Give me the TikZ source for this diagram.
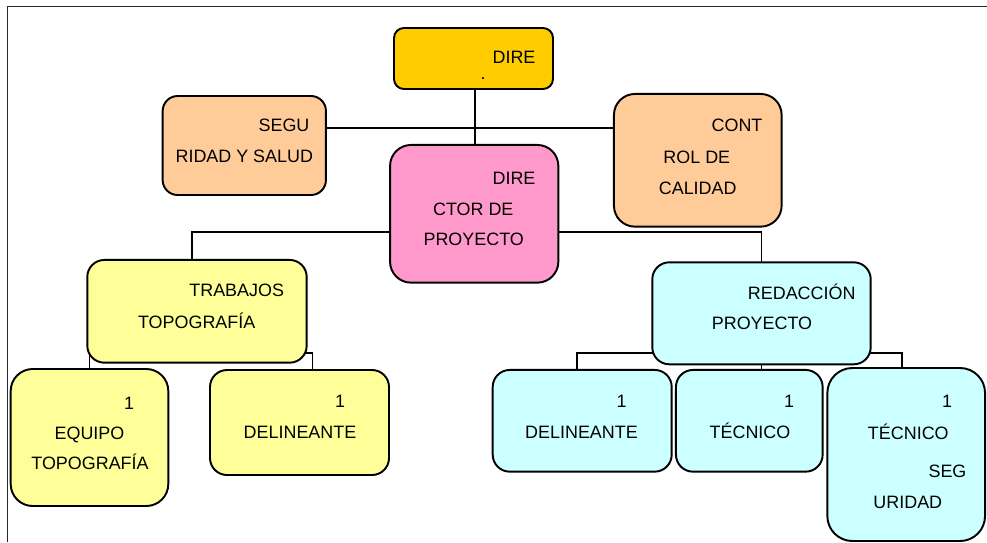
\documentclass[tikz,border=0pt]{standalone}
\usepackage{fontspec}
\setmainfont{Liberation Sans}
\usepackage{xcolor}
\usetikzlibrary{calc,backgrounds}
\definecolor{topgold}{HTML}{FFCC00}
\definecolor{peach}{HTML}{FFCC99}
\definecolor{rosa}{HTML}{FF99CC}
\definecolor{lemon}{HTML}{FFFF99}
\definecolor{aqua}{HTML}{CCFFFF}

\begin{document}
\begin{tikzpicture}[
  x=0.02cm, y=-0.02cm,
  every node/.style={font=\fontsize{10.2}{12}\selectfont},
  box/.style={draw=black,line width=1.1pt,inner sep=0pt,outer sep=0pt},
  sz/.style n args={3}{minimum width=#1*0.02cm,minimum height=#2*0.02cm,
                       rounded corners=#3*0.02cm},
  txt/.style={inner sep=0pt,text height=7.4pt,text depth=0pt},
  conn/.style={draw=black,line width=1.1pt},
  frame/.style={draw=black!85,line width=1.1pt}
]
\useasboundingbox (0,0) rectangle (987,542);
\draw[frame] (7.5,542) |- (987,6.5);

% boxes, placed by pixel centre
\node[box,fill=topgold,sz={159}{61}{10}]      (dire)  at (473.5, 58.5) {};
\node[box,fill=peach,sz={163.3}{99}{15}]      (segu)  at (244.3,145.5) {};
\node[box,fill=peach,sz={167.7}{132.7}{21}]   (cont)  at (697.8,160.3) {};
\node[box,fill=rosa,sz={168.3}{137.7}{21}]    (dirp)  at (474.2,213.8) {};
\node[box,fill=lemon,sz={219.4}{102.7}{17}]   (trab)  at (197.0,311.3) {};
\node[box,fill=lemon,sz={157.6}{137}{22}]     (equi)  at ( 89.5,437.5) {};
\node[box,fill=lemon,sz={179}{105}{17}]       (deli1) at (299.5,422.5) {};
\node[box,fill=aqua,sz={218.4}{102}{17}]      (reda)  at (761.5,313.3) {};
\node[box,fill=aqua,sz={179}{101.7}{17}]      (deli2) at (582.2,420.8) {};
\node[box,fill=aqua,sz={146.7}{101.7}{17}]    (tecn)  at (749.3,420.8) {};
\node[box,fill=aqua,sz={157.7}{173}{25}]      (tecs)  at (906.2,454.5) {};

% where the lines join
\coordinate (hub)  at (475,128);
\coordinate (mid)  at (475,232);
\coordinate (lbar) at (0,353);
\coordinate (rbar) at (0,353.3);

\begin{scope}[on background layer]
\draw[conn] (hub |- dire.south) -- (hub |- dirp.north);
\draw[conn] (segu.east |- hub) -- (cont.west |- hub);
\draw[conn] ($(trab.north)+(-5,0)$) |- (mid) -| (reda.north);
\draw[conn] (equi.north) -- (equi.north |- lbar)
            -- ($(deli1.north |- lbar)+(13,0)$) -- ($(deli1.north)+(13,0)$);
\draw[conn] ($(deli2.north)+(-5,0)$) |- ($(tecs.north |- rbar)+(-4,0)$)
            -- ($(tecs.north)+(-4,0)$);
\draw[conn] (reda.south) -- (reda.south |- tecn.north);
\end{scope}

% texts
\node[txt] (direA) at (514,56.7) {DIRE};
\node[inner sep=0pt,anchor=base] (direB) at (483,79) {.};
\node[txt] (seguA) at (284,125) {SEGU};
\node[txt] (seguB) at (244.3,156) {RIDAD Y SALUD};
\node[txt] (contA) at (737,125) {CONT};
\node[txt] (contB) at (696.8,156.7) {ROL DE};
\node[txt] (contC) at (697.7,187.7) {CALIDAD};
\node[txt] (dirpA) at (514,178) {DIRE};
\node[txt] (dirpB) at (473.3,208.7) {CTOR DE};
\node[txt] (dirpC) at (473.7,239.3) {PROYECTO};
\node[txt] (trabA) at (236.7,290) {TRABAJOS};
\node[txt] (trabB) at (196.7,322) {TOPOGRAFÍA};
\node[txt] (equiA) at (129,402.5) {1};
\node[txt] (equiB) at (89.5,432.7) {EQUIPO};
\node[txt] (equiC) at (90,463.3) {TOPOGRAFÍA};
\node[txt] (deliA) at (340,401) {1};
\node[txt] (deliB) at (300,431.7) {DELINEANTE};
\node[txt] (redaA) at (801.7,292.7) {REDACCIÓN};
\node[txt] (redaB) at (762,323.3) {PROYECTO};
\node[txt] (delcA) at (621.7,401) {1};
\node[txt] (delcB) at (581.5,431.7) {DELINEANTE};
\node[txt] (tecnA) at (789,401) {1};
\node[txt] (tecnB) at (750,431.7) {TÉCNICO};
\node[txt] (tecsA) at (947,401) {1};
\node[txt] (tecsB) at (908.3,433) {TÉCNICO};
\node[txt] (tecsC) at (947.5,471.3) {SEG};
\node[txt] (tecsD) at (907.8,502) {URIDAD};
\end{tikzpicture}
\end{document}
